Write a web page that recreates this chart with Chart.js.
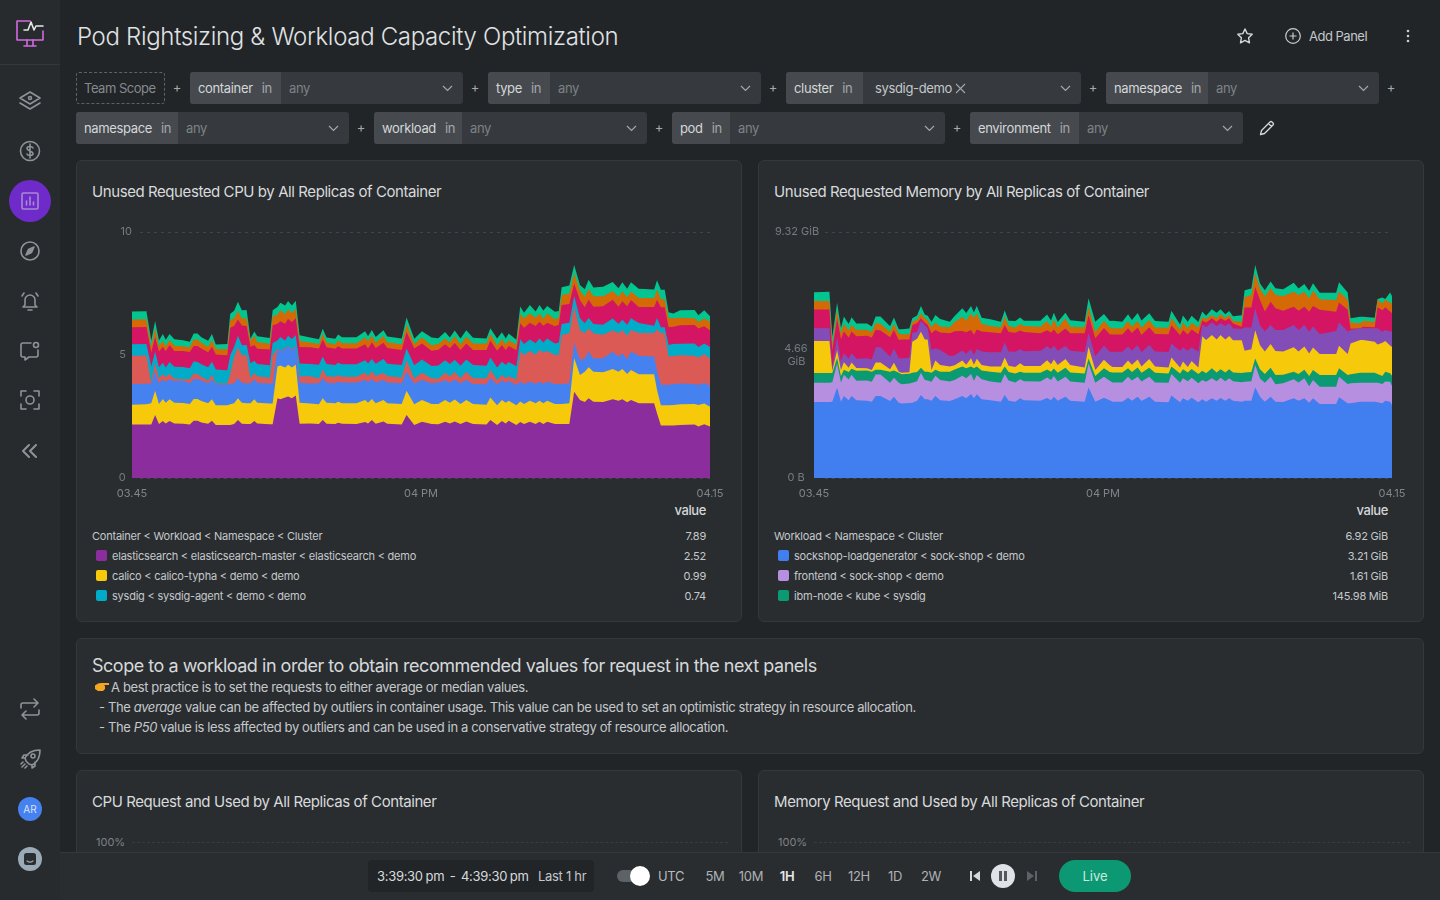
<!DOCTYPE html>
<html>
<head>
<meta charset="utf-8">
<title>Pod Rightsizing & Workload Capacity Optimization</title>
<script src="https://cdn.jsdelivr.net/npm/chart.js@4/dist/chart.umd.min.js"></script>
<style>
    * { box-sizing: border-box; margin: 0; padding: 0; }
    html, body { width: 1440px; height: 900px; overflow: hidden; background: #212528; font-family: 'Inter', sans-serif; color: #c9cccf; }
    .abs { position: absolute; white-space: nowrap; }
    .sidebar { position: absolute; left: 0; top: 0; width: 60px; height: 900px; background: #272b2e; z-index: 5; }
    .sidebar .logoLine { position: absolute; left: 0; top: 64px; width: 60px; height: 1px; background: #34383b; }
    .sidebar svg { position: absolute; fill: none; stroke: #8d9499; stroke-width: 1.6; stroke-linecap: round; stroke-linejoin: round; }
    .title { left: 77px; top: 22px; font-size: 24px; font-weight: 300; line-height: 30px; color: #e0e2e4; letter-spacing: -0.33px; }
    .chip { position: absolute; height: 32px; background: #363a3e; border-radius: 3px; font-size: 13px; line-height: 33px; letter-spacing: -0.35px; }
    .chip .key { position: absolute; left: 0; top: 0; height: 32px; background: #464a4e; border-radius: 3px 0 0 3px; color: #d4d7d9; padding-left: 8px; }
    .chip .key i { font-style: normal; color: #a4a8ab; margin-left: 9px; }
    .chip .val { position: absolute; top: 0; color: #7d8286; }
    .chip > svg { position: absolute; top: 13px; right: 10px; }
    .plus { position: absolute; width: 10px; text-align: center; font-size: 13px; color: #a6aaad; line-height: 30px; }
    .scope { position: absolute; left: 76px; top: 72px; width: 89px; height: 32px; border: 1px dashed #5d6266; border-radius: 3px; font-size: 13px; line-height: 31px; padding-left: 7px; color: #85898d; letter-spacing: -0.5px; }
    .card { position: absolute; background: #292d30; border: 1px solid #34383b; border-radius: 6px; }
    .cardTitle { font-size: 15px; line-height: 20px; color: #d8dadc; letter-spacing: -0.42px; }
    .chartBox { position: absolute; width: 648px; height: 282px; }
    .valueHead { font-size: 13px; font-weight: 500; color: #d4d7d9; text-align: right; letter-spacing: -0.4px; }
    .row { font-size: 11px; line-height: 16px; color: #c5c8cb; letter-spacing: -0.22px; }
    .swatch { position: absolute; width: 11px; height: 11px; border-radius: 2px; }
    .note { font-size: 13px; line-height: 20px; color: #c5c8cb; letter-spacing: -0.37px; }
    .bottomBar { position: absolute; left: 60px; top: 852px; width: 1380px; height: 48px; background: #292d30; border-top: 1px solid #34383b; z-index: 4; }
    .bar { position: absolute; font-size: 13px; line-height: 18px; color: #b7babd; z-index: 6; white-space: nowrap; letter-spacing: -0.3px; }
    .preset { position: absolute; top: 867px; width: 36px; text-align: center; font-size: 13px; line-height: 18px; color: #aeb2b5; z-index: 6; letter-spacing: -0.3px; }
</style>
</head>
<body>

<div class="sidebar">
    <div class="logoLine"></div>
    <svg style="left:15px;top:17px" width="30" height="30" viewBox="0 0 30 30"><path d="M15 4H2v19h26v-9" stroke="#d36be0"/><path d="M9 29h12M12 23v6M18 23v6" stroke="#d36be0"/><path d="M9 13h4l3-8 3 8 2-4h7" stroke="#e6e6e6"/></svg>
    <svg style="left:18px;top:90px" width="24" height="22" viewBox="0 0 24 22"><path d="M12 2l10 6-10 6L2 8z"/><path d="M2 13l10 6 10-6"/><circle cx="12" cy="8" r="1.5"/></svg>
    <svg style="left:19px;top:140px" width="22" height="22" viewBox="0 0 22 22"><circle cx="11" cy="11" r="9.5"/><path d="M14 8c-1-2-6-2-6 .5S14 11 14 13.500 9 16 8 14M11 4v14"/></svg>
    <div style="position:absolute;left:9px;top:180px;width:42px;height:42px;border-radius:50%;background:#6f2bc9"></div>
    <svg style="left:21px;top:192px;stroke:#a78ad0" width="18" height="18" viewBox="0 0 18 18"><rect x="1" y="1" width="16" height="16" rx="1.500"/><path d="M5.500 13V9M9 13V5M12.500 13v-3"/></svg>
    <svg style="left:20px;top:241px" width="20" height="20" viewBox="0 0 20 20"><circle cx="10" cy="10" r="9"/><path d="M14 6l-2.500 5.500L6 14l2.500-5.500z" fill="#8d9499"/></svg>
    <svg style="left:19px;top:290px" width="22" height="22" viewBox="0 0 22 22"><path d="M6 15V10a5 5 0 0110 0v5l2 2H4zM9 20h4M3 6l2-3M19 6l-2-3"/></svg>
    <svg style="left:20px;top:341px" width="20" height="20" viewBox="0 0 20 20"><path d="M11 2H3a2 2 0 00-2 2v10a2 2 0 002 2h2v3l4-3h7a2 2 0 002-2V9"/><circle cx="16" cy="4" r="2.500"/></svg>
    <svg style="left:20px;top:390px" width="20" height="20" viewBox="0 0 20 20"><path d="M1 6V1h5M14 1h5v5M19 14v5h-5M6 19H1v-5"/><circle cx="10" cy="10" r="4"/></svg>
    <svg style="left:21px;top:444px" width="18" height="14" viewBox="0 0 18 14"><path d="M8 1L2 7l6 6M15 1L9 7l6 6" stroke-width="2"/></svg>
    <svg style="left:20px;top:698px" width="20" height="22" viewBox="0 0 20 22"><path d="M14 1l4 4-4 4M18 5H3a2 2 0 00-2 2v3M6 21l-4-4 4-4M2 17h15a2 2 0 002-2v-3"/></svg>
    <svg style="left:20px;top:749px" width="21" height="20" viewBox="0 0 21 20"><path d="M6 12l-1-3C7 5 12 1 20 1c0 8-4 13-8 15l-3-1zM5 9H2l2-3h4M12 16v3l3-2v-4M2 18l3-3M1 15l2-2M5 19l2-2"/><circle cx="13" cy="7" r="2"/></svg>
    <div style="position:absolute;left:18px;top:797px;width:24px;height:24px;border-radius:50%;background:#4681f0;color:#d8e4fb;font-size:10px;line-height:24px;text-align:center">AR</div>
    <div style="position:absolute;left:18px;top:847px;width:24px;height:24px;border-radius:50%;background:#9aaab6"></div>
    <svg style="left:24px;top:853px;stroke:none" width="12" height="12" viewBox="0 0 12 12"><rect width="12" height="12" rx="2.500" fill="#2a2e31"/><path d="M3 8c2 1.500 4 1.500 6 0" stroke="#9aaab6" fill="none" stroke-width="1.200"/></svg>
</div>

<div class="abs title">Pod Rightsizing &amp; Workload Capacity Optimization</div>
<svg class="abs" style="left:1236px;top:27px" width="18" height="18" viewBox="0 0 18 18" fill="none" stroke="#d6d9db" stroke-width="1.400" stroke-linejoin="round"><path d="M9 2l2.200 4.600 5 .7-3.600 3.500.9 5L9 13.400 4.500 15.800l.9-5L1.800 7.300l5-.7z"/></svg>
<svg class="abs" style="left:1285px;top:28px" width="16" height="16" viewBox="0 0 16 16" fill="none" stroke="#c9cccf" stroke-width="1.200"><circle cx="8" cy="8" r="7.300"/><path d="M8 4.500v7M4.500 8h7"/></svg>
<div class="abs" style="left:1309px;top:27px;font-size:13px;line-height:18px;color:#c5c8cb;letter-spacing:-0.5px">Add Panel</div>
<svg class="abs" style="left:1405px;top:29px" width="6" height="14" viewBox="0 0 6 14" fill="#c9cccf"><circle cx="3" cy="2" r="1.300"/><circle cx="3" cy="7" r="1.300"/><circle cx="3" cy="12" r="1.300"/></svg>

<div class="scope">Team Scope</div>
<div id="filters"></div>
<svg class="abs" style="left:1259px;top:120px" width="16" height="16" viewBox="0 0 16 16" fill="none" stroke="#d6d9db" stroke-width="1.300" stroke-linejoin="round"><path d="M1.500 14.500l1-4L11 2a1.500 1.500 0 012 0l1 1a1.500 1.500 0 010 2l-8.500 8.500zM9.500 3.500l3 3"/></svg>

<!-- Unused requested CPU -->
<div class="card" style="left:76px;top:160px;width:666px;height:462px"></div>
<div class="abs cardTitle" style="left:92px;top:182px">Unused Requested CPU by All Replicas of Container</div>
<div class="chartBox" style="left:82px;top:220px"><canvas id="cpuChart"></canvas></div>
<div class="abs valueHead" style="left:606px;width:100px;top:502px">value</div>
<div id="cpuLegend"></div>

<!-- Unused requested memory -->
<div class="card" style="left:758px;top:160px;width:666px;height:462px"></div>
<div class="abs cardTitle" style="left:774px;top:182px">Unused Requested Memory by All Replicas of Container</div>
<div class="chartBox" style="left:764px;top:220px"><canvas id="memChart"></canvas></div>
<div class="abs valueHead" style="left:1288px;width:100px;top:502px">value</div>
<div id="memLegend"></div>

<!-- Text panel -->
<div class="card" style="left:76px;top:638px;width:1348px;height:116px"></div>
<div class="abs" style="left:92px;top:655px;font-size:18px;line-height:22px;color:#d6d9db;letter-spacing:-0.48px">Scope to a workload in order to obtain recommended values for request in the next panels</div>
<svg class="abs" style="left:95px;top:682px" width="14" height="10" viewBox="0 0 14 10"><path d="M0 3.500l3-2 3-.5h8v2H9l1 1v3l-2 2H3l-3-2z" fill="#f4a623"/></svg>
<div class="abs note" style="left:111px;top:677px">A best practice is to set the requests to either average or median values.</div>
<div class="abs note" style="left:99px;top:697px">- The <i>average</i> value can be affected by outliers in container usage. This value can be used to set an optimistic strategy in resource allocation.</div>
<div class="abs note" style="left:99px;top:717px">- The <i>P50</i> value is less affected by outliers and can be used in a conservative strategy of resource allocation.</div>

<!-- Next panels, cut off by the time bar -->
<div class="card" style="left:76px;top:770px;width:666px;height:200px"></div>
<div class="abs cardTitle" style="left:92px;top:792px">CPU Request and Used by All Replicas of Container</div>
<div class="abs" style="left:96px;top:835px;font-size:11px;line-height:14px;color:#7d8286">100%</div>
<div class="abs" style="left:132px;top:842px;width:596px;border-top:1px dashed #363c41"></div>
<div class="card" style="left:758px;top:770px;width:666px;height:200px"></div>
<div class="abs cardTitle" style="left:774px;top:792px">Memory Request and Used by All Replicas of Container</div>
<div class="abs" style="left:778px;top:835px;font-size:11px;line-height:14px;color:#7d8286">100%</div>
<div class="abs" style="left:814px;top:842px;width:596px;border-top:1px dashed #363c41"></div>

<!-- Time bar -->
<div class="bottomBar"></div>
<div style="position:absolute;left:368px;top:860px;width:226px;height:32px;background:#212528;border-radius:4px;z-index:5"></div>
<div class="bar" style="left:377px;top:867px;color:#d8dadc;word-spacing:-0.6px">3:39:30 pm &nbsp;-&nbsp; 4:39:30 pm</div>
<div class="bar" style="left:538px;top:867px;color:#c5c8cb">Last 1 hr</div>
<div style="position:absolute;left:617px;top:870px;width:24px;height:12px;border-radius:6px;background:#5d6266;z-index:5"></div>
<div style="position:absolute;left:630px;top:866px;width:20px;height:20px;border-radius:50%;background:#fff;z-index:6"></div>
<div class="bar" style="left:658px;top:867px">UTC</div>
<div id="presets"></div>
<svg style="position:absolute;left:969px;top:870px;z-index:6" width="12" height="12" viewBox="0 0 12 12" fill="#d6d9db"><rect x="1" y="1" width="2" height="10"/><path d="M11 1v10L4 6z"/></svg>
<div style="position:absolute;left:991px;top:864px;width:24px;height:24px;border-radius:50%;background:#dfe2e6;z-index:6"></div>
<svg style="position:absolute;left:998px;top:871px;z-index:7" width="10" height="10" viewBox="0 0 10 10" fill="#555a5f"><rect x="1" y="0" width="3" height="10"/><rect x="6" y="0" width="3" height="10"/></svg>
<svg style="position:absolute;left:1026px;top:870px;z-index:6" width="12" height="12" viewBox="0 0 12 12" fill="#5d6266"><rect x="9" y="1" width="2" height="10"/><path d="M1 1v10l7-5z"/></svg>
<div style="position:absolute;left:1059px;top:860px;width:72px;height:32px;border-radius:16px;background:#0b9872;color:#cfe9e1;font-size:13px;line-height:33px;text-align:center;z-index:6">Live</div>

<script>
// ========================================
// Chart data
// ========================================
const timeTickLabels = ['03.45', '04 PM', '04.15'];
const cpuTickLabels = ['0\u00a0\u00a0', '5\u00a0\u00a0', '10'];
// the memory labels are drawn left aligned, so the padding goes in front
const memTickLabels = ['\u00a0\u00a0\u00a0\u00a00 B', ['\u00a0\u00a0\u00a04.66', '\u00a0\u00a0\u00a0\u00a0GiB'], '9.32 GiB'];

// minutes since 3:45, the spikes do not sit on a regular grid
const cpuMinutes = [0,1.5,2,2.4,2.8,3.2,3.5,3.9,4.4,5.3,6,6.4,6.8,7.2,7.9,8.3,8.7,9.9,10.2,10.6,11,11.4,11.9,12.3,12.7,13,14.3,14.6,15.1,15.4,15.9,16.2,16.6,17,17.4,18.5,19.4,19.8,20.2,21.1,21.4,21.8,23.3,24.2,24.5,24.9,25.3,26.1,26.5,28,28.5,29.3,30.1,31.1,31.8,32.5,33,33.5,34.1,34.7,35.4,36.8,37.2,37.9,38.4,38.8,39.1,39.9,40.3,40.7,41.3,41.9,42.3,42.7,43.1,43.9,44.3,44.6,45.4,45.9,46.5,47,47.4,47.9,48.9,49.9,50.5,50.9,51.4,51.8,52.6,54.2,54.5,54.9,55.3,55.7,56.2,56.9,58.4,58.8,59.4,60];

const elasticsearchCpu = [2.17,2.17,2.17,2.56,2.2,2.32,2.22,2.32,2.22,2.21,2.17,2.33,2.33,2.26,2.21,2.33,2.15,2.15,2.15,2.2,2.36,2.21,2.2,2.2,2.32,2.22,2.18,2.18,3.24,3.2,3.27,3.31,3.24,3.35,2.21,2.22,2.2,2.36,2.21,2.2,2.25,2.21,2.2,2.28,2.22,2.36,2.21,2.3,2.21,2.17,2.56,2.15,2.29,2.2,2.18,2.29,2.22,2.3,2.2,2.3,2.2,2.17,2.36,2.15,2.32,2.22,2.33,2.15,2.28,2.2,2.29,2.2,2.29,2.2,2.29,2.2,2.2,2.2,2.2,3.51,3.17,3.09,3.24,3.1,3.09,3.2,3.14,3.2,3.08,3.17,3.04,3.04,2.63,2.13,2.13,2.13,2.13,2.15,2.17,2.09,2.18,2.09];
const calicoCpu = [.81,.83,.87,.99,.81,.89,.84,.88,.84,.84,.84,.88,.88,.87,.83,.87,.81,.81,.85,.84,.88,.85,.84,.84,.88,.84,.85,.85,1.29,1.37,1.22,1.29,1.25,1.25,.85,.81,.8,.88,.85,.84,.85,.83,.84,.89,.84,.85,.83,.87,.83,.84,.99,.85,.88,.81,.83,.88,.84,.89,.81,.87,.81,.81,.91,.81,.85,.84,.81,.81,.83,.81,.85,.84,.85,.84,.85,.81,.81,.81,.84,1.36,1.02,1.23,1.26,1.22,1.21,1.23,1.18,1.23,1.15,1.22,1.18,1.18,.95,.83,.83,.83,.84,.85,.84,.88,.85,.81];
const blueCpu = [.84,.83,.8,.77,.84,.8,.85,.81,.88,.91,.84,.81,.81,.83,.81,.81,.84,.85,.81,.81,.81,.81,.81,.81,.81,.81,.81,.81,.7,.57,.76,.72,.72,.72,.81,.81,.85,.81,.81,.81,.81,.84,.84,.81,.84,.81,.84,.81,.84,.84,.77,.84,.81,.84,.87,.8,.81,.81,.84,.81,.81,.83,.79,.84,.79,.81,.81,.81,.81,.81,.77,.79,.77,.79,.77,.81,.81,.81,.81,.64,.61,.54,.64,.54,.57,.7,.61,.64,.6,.75,.75,.72,.79,.83,.83,.83,.85,.84,.81,.81,.84,.84];
const coralCpu = [1.15,1.15,.04,.34,.2,.22,.2,.22,.09,.05,.16,.23,.2,.16,.11,.19,.04,.03,.43,1.08,1.26,1.12,1.15,.2,.27,.27,.24,1.15,.03,.03,.03,.03,.03,.03,.27,.3,.19,.37,.27,.27,.27,.24,.24,.31,.24,.33,.27,.3,.27,.24,.47,.2,.3,.2,.15,.31,.27,.31,.2,.34,.23,.24,.34,.18,.23,.18,.19,.23,1.22,1.18,1.25,1.18,1.29,1.27,1.25,1.18,1.18,1.99,2.03,1.46,1.22,1.02,.95,1.02,.95,.88,.95,.95,.95,.88,.92,.95,1.68,2.1,2.1,1.15,1.14,1.15,1.15,1.12,1.17,1.12];
const sysdigCpu = [.47,.47,.65,.47,.45,.46,.38,.49,.49,.5,.45,.5,.5,.5,.54,.53,.57,.54,.75,.41,.47,.41,.41,.61,.49,.49,.5,.5,.33,.56,.31,.43,.41,.45,.51,.49,.56,.51,.49,.47,.5,.5,.5,.5,.51,.49,.49,.56,.49,.5,.47,.54,.54,.5,.54,.51,.49,.5,.51,.5,.54,.51,.5,.51,.54,.54,.58,.54,.5,.45,.47,.47,.47,.41,.51,.47,.5,.45,.43,.43,.47,.41,.41,.38,.41,.47,.38,.41,.45,.47,.41,.3,.45,.24,.24,.47,.49,.47,.5,.43,.43,.47];
const magentaCpu = [.69,.69,.57,.61,.64,.65,.66,.69,.64,.65,.66,.62,.65,.64,.61,.61,.61,.61,1.12,.84,.66,.8,.77,.68,.64,.62,.64,.72,.68,.64,.68,.69,.68,.7,.68,.68,.66,.7,.68,.66,.68,.64,.64,.65,.61,.68,.64,.66,.64,.61,.68,.68,.65,.62,.64,.65,.64,.68,.64,.65,.61,.64,.69,.68,.68,.61,.65,.65,.65,.66,.68,.7,.68,.68,.64,.7,.73,.77,.76,.51,.75,.65,.75,.7,.75,.77,.7,.75,.75,.75,.65,.76,.75,.81,.81,.72,.7,.75,.75,.75,.7,.68];
const orangeCpu = [.31,.31,.24,.34,.23,.24,.2,.2,.22,.2,.19,.26,.26,.24,.23,.27,.23,.23,.3,.31,.35,.28,.31,.24,.37,.28,.24,.37,.37,.45,.39,.39,.38,.37,.24,.2,.19,.24,.2,.19,.24,.22,.22,.27,.31,.26,.23,.27,.24,.24,.31,.2,.24,.23,.24,.23,.24,.27,.24,.27,.27,.27,.27,.23,.23,.24,.23,.23,.38,.38,.38,.33,.34,.28,.38,.28,.28,.41,.43,.41,.38,.43,.43,.43,.41,.35,.41,.41,.37,.34,.37,.37,.41,.33,.33,.37,.34,.3,.27,.27,.31,.34];
const greenCpu = [.33,.33,.24,.3,.22,.27,.27,.24,.26,.24,.23,.24,.24,.22,.24,.24,.18,.23,.27,.31,.37,.34,.34,.09,.18,.23,.23,.24,.31,.3,.35,.34,.3,.34,.23,.2,.19,.2,.2,.22,.23,.24,.24,.26,.19,.24,.22,.24,.23,.23,.27,.2,.26,.31,.23,.27,.2,.24,.23,.27,.23,.2,.23,.27,.28,.23,.27,.2,.3,.23,.34,.26,.34,.34,.3,.31,.28,.31,.33,.34,.23,.3,.38,.35,.38,.37,.34,.37,.34,.38,.37,.34,.38,.38,.38,.24,.2,.31,.34,.27,.34,.23];

const memMinutes = [0,1.6,1.9,2.4,2.8,3.1,3.6,3.9,4.4,5.5,6,6.4,6.9,7.9,8.3,8.8,9.1,9.9,10.2,10.7,11.1,11.5,11.8,12.2,12.6,13.1,14.1,14.6,15.4,15.8,16.3,16.6,16.9,17.4,18.3,19.4,19.8,20.2,20.9,21.4,21.8,23.5,24.2,24.6,24.9,25.3,26.1,26.6,28.1,28.5,29.2,30.1,30.7,31,32,32.6,33,33.6,34,34.8,35.4,36.8,37.1,38,38.3,38.8,39.2,39.9,40.3,40.7,41.3,41.8,42.2,42.7,43.1,43.5,44.4,44.7,45.4,45.8,46.3,46.8,47.4,47.9,48.7,49.8,50.3,50.9,51.4,51.8,52.5,54.2,54.5,55.4,55.7,56.7,57,58.2,58.5,59,59.3,59.8,60];

const loadgeneratorMem = [2.88,2.88,2.89,3.42,2.89,3.11,2.95,3.11,2.95,2.93,2.89,3.11,3.11,2.92,3.08,2.85,2.82,2.84,2.85,2.93,3.14,2.98,2.98,2.93,3.11,2.95,2.92,2.98,3.11,3.02,3.18,3.02,3.17,2.98,2.95,2.89,3.14,2.93,2.89,3.02,2.95,2.93,3.03,2.95,3.08,2.93,3.08,2.93,2.89,3.43,2.89,3.04,2.95,2.89,2.89,3.04,2.93,3.08,2.92,3.08,2.89,2.87,3.13,2.87,3.02,2.93,3.04,2.87,2.98,2.89,3.02,2.93,3.03,2.93,3.02,2.93,2.89,2.93,2.93,3.43,3.08,2.89,3.08,2.89,2.88,3.02,2.93,3.02,2.85,3.02,2.8,2.8,3.06,2.83,2.83,2.89,2.89,2.89,2.87,2.83,2.93,2.89,2.77];
const frontendMem = [.73,.73,.74,.92,.73,.8,.78,.8,.73,.76,.76,.81,.81,.69,.72,.76,.73,.74,.76,.74,.85,.73,.71,.72,.76,.76,.74,.73,.76,.76,.76,.66,.73,.76,.71,.72,.8,.76,.73,.72,.72,.73,.78,.76,.78,.73,.76,.73,.72,.91,.72,.8,.73,.73,.73,.8,.76,.76,.74,.76,.73,.74,.81,.74,.76,.74,.76,.72,.73,.76,.76,.74,.77,.74,.76,.74,.74,.72,.74,.85,.69,.72,.76,.66,.71,.72,.69,.76,.63,.69,.66,.66,.78,.73,.76,.72,.72,.72,.74,.73,.73,.76,.72];
const ibmNodeMem = [.37,.37,.35,.21,.24,.19,.29,.23,.38,.38,.38,.18,.18,.42,.27,.38,.38,.37,.38,.35,.19,.32,.34,.34,.23,.32,.37,.4,.35,.38,.28,.48,.32,.33,.37,.38,.28,.33,.34,.29,.32,.33,.3,.32,.29,.33,.34,.34,.35,.19,.25,.32,.34,.38,.38,.32,.33,.35,.33,.34,.37,.35,.28,.35,.34,.33,.33,.35,.35,.32,.38,.33,.32,.33,.34,.33,.35,.35,.35,.25,.35,.33,.34,.35,.32,.29,.32,.32,.38,.38,.44,.44,.32,.34,.34,.38,.38,.38,.33,.3,.37,.32,.38];
const yellowMem = [1.21,1.21,.08,.29,.23,.29,.16,.24,.11,.09,.06,.28,.28,.09,.3,.04,.06,.06,1.17,1.26,1.36,1.22,1.22,.1,.35,.25,.19,.16,.23,.13,.32,.13,.3,.21,.19,.23,.35,.23,.25,.32,.25,.25,.35,.28,.34,.29,.33,.28,.23,.44,.23,.32,.25,.21,.21,.29,.27,.3,.23,.33,.23,.23,.35,.23,.29,.21,.3,.25,1.31,1.26,1.26,1.25,1.3,1.25,1.26,1.22,1.24,.82,.86,1.07,.91,.85,.9,.91,.88,.92,.85,.88,.86,.85,.8,.8,.85,.8,1.17,1.24,1.24,1.17,1.12,1.26,1.16,1.05,1.09];
const purpleMem = [.48,.48,.15,.48,.32,.34,.34,.35,.35,.38,.4,.57,.57,.48,.53,.51,.54,.56,.34,.25,.42,.54,.42,.76,.47,.57,.4,.38,.38,.42,.34,.38,.37,.51,.54,.54,.56,.54,.57,.53,.56,.58,.53,.57,.52,.54,.49,.54,.58,.51,.53,.53,.51,.57,.57,.53,.54,.54,.54,.53,.57,.58,.53,.63,.53,.61,.52,.59,.45,.48,.47,.51,.44,.51,.48,.44,.43,.88,.82,.82,.76,.76,.72,.8,.82,.85,.82,.82,.82,.8,.76,.87,.88,.85,.51,.44,.44,.51,.61,.42,.42,.53,.59];
const magentaMem = [.71,.71,.63,.72,.85,.82,.8,.82,.85,.85,.83,.67,.64,.73,.71,.69,.72,.68,.29,.34,.09,.1,.13,.63,.69,.66,.86,.91,.74,.81,.73,.76,.74,.76,.76,.72,.67,.74,.72,.71,.73,.66,.61,.63,.62,.63,.66,.66,.71,.69,.67,.67,.67,.66,.66,.69,.66,.67,.66,.67,.67,.68,.69,.59,.67,.62,.68,.67,.15,.18,.16,.16,.19,.2,.19,.19,.08,.76,.76,.82,.95,.76,.88,.82,.73,.69,.73,.69,.76,.78,.91,.73,.76,.82,.04,0,.06,.04,.8,.82,.86,.76,.69];
const orangeMem = [.33,.33,.19,.32,.23,.29,.28,.25,.25,.23,.21,.25,.25,.21,.23,.25,.2,.2,.13,.13,.19,.15,.19,.23,.28,.23,.23,.35,.54,.45,.63,.63,.61,.29,.24,.23,.32,.23,.2,.24,.23,.25,.35,.23,.38,.25,.39,.25,.23,.32,.25,.28,.25,.23,.23,.28,.25,.25,.28,.28,.24,.24,.28,.21,.28,.23,.25,.25,.13,.13,.13,.13,.16,.09,.13,.1,.19,.4,.47,.51,.44,.57,.51,.51,.56,.57,.59,.57,.51,.58,.4,.44,.42,.38,.24,.19,.23,.21,.28,.25,.28,.34,.38];
const greenMem = [.33,.35,.32,.28,.19,.28,.23,.29,.23,.23,.21,.25,.28,.21,.24,.16,.19,.21,.13,.16,.28,.15,.16,.21,.29,.28,.21,.23,.32,.28,.28,.21,.29,.23,.25,.21,.23,.2,.25,.25,.2,.23,.24,.23,.25,.21,.21,.25,.21,.32,.38,.25,.25,.29,.25,.25,.25,.3,.27,.25,.25,.23,.27,.2,.27,.25,.27,.21,.21,.13,.21,.21,.18,.15,.15,.18,.25,.25,.25,.32,.19,.23,.25,.25,.25,.34,.25,.29,.28,.28,.25,.28,.35,.28,.16,.25,.15,.15,.03,.23,.03,.38,.28];

// Legend rows shown under each chart
const cpuLegendRows = [
    ['elasticsearch < elasticsearch-master < elasticsearch < demo', '2.52', '#8c2d9e'],
    ['calico < calico-typha < demo < demo', '0.99', '#f6c90a'],
    ['sysdig < sysdig-agent < demo < demo', '0.74', '#00acc8']
];
const memLegendRows = [
    ['sockshop-loadgenerator < sock-shop < demo', '3.21 GiB', '#417eef'],
    ['frontend < sock-shop < demo', '1.61 GiB', '#b68fe0'],
    ['ibm-node < kube < sysdig', '145.98 MiB', '#0c9a72']
];

// Filter chips: key, left, right, split between key and value, top, value
const filterChips = [
    ['container', 190, 463, 281, 72, 'any'],
    ['type', 488, 761, 550, 72, 'any'],
    ['cluster', 786, 1081, 863, 72, 'sysdig-demo'],
    ['namespace', 1106, 1379, 1208, 72, 'any'],
    ['namespace', 76, 349, 178, 112, 'any'],
    ['workload', 374, 647, 462, 112, 'any'],
    ['pod', 672, 945, 730, 112, 'any'],
    ['environment', 970, 1243, 1079, 112, 'any']
];
const plusMarks = [[172, 72], [470, 72], [768, 72], [1088, 72], [1386, 72], [356, 112], [654, 112], [952, 112]];
const timePresets = [['5M', 715], ['10M', 751], ['1H', 787], ['6H', 823], ['12H', 859], ['1D', 895], ['2W', 931]];

// ========================================
// Page furniture
// ========================================
const chevron = '<svg width="11" height="7" viewBox="0 0 11 7" fill="none" stroke="#a4a8ab" stroke-width="1.2"><path d="M1 1l4.500 4.500L10 1"/></svg>';
const clearMark = '<svg style="position:absolute;left:80px;top:11px" width="11" height="11" viewBox="0 0 11 11" fill="none" stroke="#a4a8ab" stroke-width="1.1"><path d="M1 1l9 9M10 1l-9 9"/></svg>';

function createChip(chip) {
    const [key, left, right, split, top, value] = chip;
    const width = right - left;
    const keyWidth = split - left;
    const valueLeft = value === 'any' ? keyWidth + 8 : keyWidth + 12;
    const valueColor = value === 'any' ? '' : 'color:#c5c8cb;';
    const clear = value === 'any' ? '' : clearMark;
    return `
        <div class="chip" style="left:${left}px;top:${top}px;width:${width}px">
            <div class="key" style="width:${keyWidth}px">${key}<i>in</i></div>
            <div class="val" style="left:${valueLeft}px;${valueColor}">${value}${clear}</div>
            ${chevron}
        </div>`;
}

document.getElementById('filters').innerHTML =
    filterChips.map(createChip).join('') +
    plusMarks.map(p => `<div class="plus" style="left:${p[0]}px;top:${p[1]}px">+</div>`).join('');

document.getElementById('presets').innerHTML = timePresets.map(p => {
    const active = p[0] === '1H' ? 'color:#e6e8ea;font-weight:600;' : '';
    return `<div class="preset" style="left:${p[1] - 18}px;${active}">${p[0]}</div>`;
}).join('');

function createLegend(id, left, header, headerValue, rows) {
    const valueLeft = left + 514;
    let html = `
        <div class="abs row" style="left:${left}px;top:528px">${header}</div>
        <div class="abs row" style="left:${valueLeft}px;width:100px;top:528px;text-align:right">${headerValue}</div>`;
    rows.forEach((row, i) => {
        const top = 548 + i * 20;
        html += `
        <div class="swatch" style="left:${left + 4}px;top:${top + 2}px;background:${row[2]}"></div>
        <div class="abs row" style="left:${left + 20}px;top:${top}px">${row[0].replace(/</g, '&lt;')}</div>
        <div class="abs row" style="left:${valueLeft}px;width:100px;top:${top}px;text-align:right">${row[1]}</div>`;
    });
    document.getElementById(id).innerHTML = html;
}

createLegend('cpuLegend', 92, 'Container &lt; Workload &lt; Namespace &lt; Cluster', '7.89', cpuLegendRows);
createLegend('memLegend', 774, 'Workload &lt; Namespace &lt; Cluster', '6.92 GiB', memLegendRows);

// ========================================
// Charts
// ========================================
// Dashed grid line that stops short of the tick label, like the reference
const dashedGrid = {
    id: 'dashedGrid',
    beforeDatasetsDraw(chart, args, opts) {
        const yScale = chart.scales.y;
        const ctx = chart.ctx;
        ctx.save();
        ctx.strokeStyle = '#3b4853';
        ctx.setLineDash([3, 4]);
        ctx.lineWidth = 1;
        yScale.ticks.forEach(tick => {
            const y = Math.round(yScale.getPixelForValue(tick.value)) + 0.5;
            ctx.beginPath();
            ctx.moveTo(chart.chartArea.left + opts.gap, y);
            ctx.lineTo(chart.chartArea.right, y);
            ctx.stroke();
        });
        ctx.restore();
    }
};

function createStackedArea(id, minutes, series, yMax, yStep, yLabels, labelShift, labelMirror, gridGap) {
    return new Chart(document.getElementById(id), {
        type: 'line',
        plugins: [dashedGrid],
        data: {
            datasets: series.map(s => ({
                label: s.label,
                data: s.values.map((v, i) => ({ x: minutes[i], y: v })),
                borderColor: s.color,
                backgroundColor: s.color,
                borderWidth: 0,
                fill: 'origin',
                tension: 0,
                pointRadius: 0
            }))
        },
        options: {
            responsive: true,
            maintainAspectRatio: false,
            animation: false,
            layout: { padding: { top: 12, right: 20, left: 0, bottom: 0 } },
            plugins: {
                legend: { display: false },
                tooltip: { enabled: false },
                dashedGrid: { gap: gridGap }
            },
            scales: {
                x: {
                    type: 'linear',
                    min: 0,
                    max: 60,
                    grid: { display: false },
                    border: { display: false },
                    afterFit(scale) {
                        scale.height = 24;
                        scale.paddingLeft = 0;
                        scale.paddingRight = 0;
                    },
                    ticks: {
                        stepSize: 30,
                        autoSkip: false,
                        maxRotation: 0,
                        padding: 1,
                        color: '#7f8589',
                        font: { family: 'Inter', size: 11 },
                        callback: value => timeTickLabels[value / 30]
                    }
                },
                y: {
                    stacked: true,
                    min: 0,
                    max: yMax,
                    grid: { display: false },
                    border: { display: false },
                    afterFit(scale) { scale.width = 50; },
                    ticks: {
                        stepSize: yStep,
                        padding: labelShift,
                        mirror: labelMirror,
                        color: '#757b80',
                        font: { family: 'Inter', size: 11 },
                        callback: (value, index) => yLabels[index]
                    }
                }
            }
        }
    });
}

createStackedArea('cpuChart', cpuMinutes, [
    { label: 'elasticsearch < elasticsearch-master < elasticsearch < demo', values: elasticsearchCpu, color: '#8c2d9e' },
    { label: 'calico < calico-typha < demo < demo', values: calicoCpu, color: '#f6c90a' },
    { label: 'blue series', values: blueCpu, color: '#4681f0' },
    { label: 'coral series', values: coralCpu, color: '#dc5a55' },
    { label: 'sysdig < sysdig-agent < demo < demo', values: sysdigCpu, color: '#00acc8' },
    { label: 'magenta series', values: magentaCpu, color: '#d41563' },
    { label: 'orange series', values: orangeCpu, color: '#d46a06' },
    { label: 'green series', values: greenCpu, color: '#03c58f' }
], 10, 5, cpuTickLabels, -8, false, 8);

createStackedArea('memChart', memMinutes, [
    { label: 'sockshop-loadgenerator < sock-shop < demo', values: loadgeneratorMem, color: '#417eef' },
    { label: 'frontend < sock-shop < demo', values: frontendMem, color: '#b68fe0' },
    { label: 'ibm-node < kube < sysdig', values: ibmNodeMem, color: '#0c9a72' },
    { label: 'yellow series', values: yellowMem, color: '#f6c90a' },
    { label: 'purple series', values: purpleMem, color: '#834db8' },
    { label: 'magenta series', values: magentaMem, color: '#d41563' },
    { label: 'orange series', values: orangeMem, color: '#d46a06' },
    { label: 'green series', values: greenMem, color: '#03c58f' }
], 9.32, 4.66, memTickLabels, -39, true, 11);
</script>
</body>
</html>
